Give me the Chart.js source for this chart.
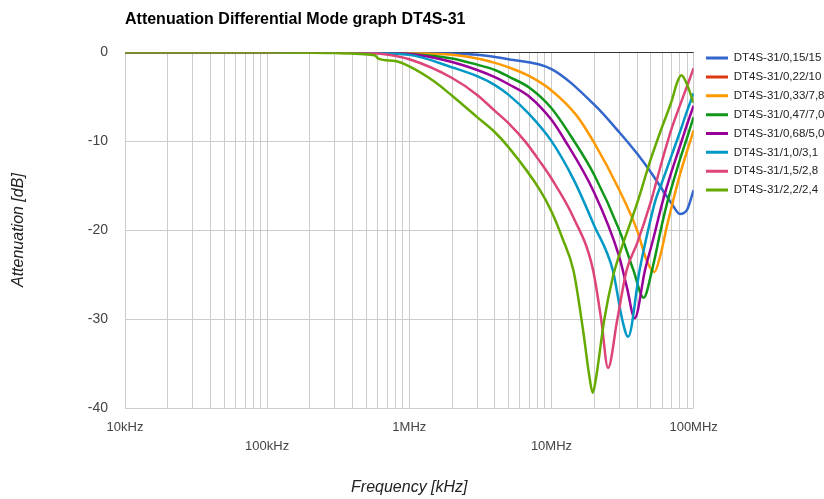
<!DOCTYPE html>
<html lang="en">
<head>
<meta charset="UTF-8">
<title>Attenuation Differential Mode graph DT4S-31</title>
<script src="https://cdn.jsdelivr.net/npm/chart.js@4"></script>
<style>
  html, body { margin: 0; padding: 0; background: #fff; }
  .wrap { width: 824px; height: 499px; }
</style>
</head>
<body>
<div class="wrap"><canvas id="attChart"></canvas></div>
<script>
// frequency in kHz, attenuation in dB
const seriesNames = ['DT4S-31/0,15/15', 'DT4S-31/0,22/10', 'DT4S-31/0,33/7,8', 'DT4S-31/0,47/7,0',
                     'DT4S-31/0,68/5,0', 'DT4S-31/1,0/3,1', 'DT4S-31/1,5/2,8', 'DT4S-31/2,2/2,4'];
const seriesColors = ['#3366cc', '#dc3912', '#ff9900', '#109618', '#990099', '#0099c6', '#dd4477', '#66aa00'];

const att015 = [[10,0],[100,0],[1000,-0.05],[3000,-0.3],[5000,-0.8],[10000,-1.9],[20000,-5.9],[30000,-9.0],
  [40000,-11.4],[50000,-13.5],[60000,-15.4],[70000,-17.0],[80000,-18.2],[90000,-17.7],[100000,-15.5]];
const att022 = [];
const att033 = [[10,0],[300,0],[1000,-0.1],[2000,-0.3],[3000,-0.7],[4000,-1.2],[5000,-1.7],[7000,-2.7],[10000,-4.3],
  [15000,-7.1],[20000,-10.2],[30000,-15.5],[40000,-20.0],[47000,-23.5],[53000,-24.7],[58000,-23.0],[65000,-19.5],
  [72000,-16.6],[80000,-13.8],[90000,-11.1],[100000,-8.8]];
const att047 = [[10,0],[300,0],[1000,-0.2],[2000,-0.7],[3000,-1.4],[4000,-2.0],[5000,-2.75],[7000,-4.0],[10000,-6.3],
  [14300,-9.9],[20000,-13.8],[30000,-20.0],[37700,-24.5],[44500,-27.6],[51000,-24.5],[60000,-19.3],[66000,-16.6],
  [70000,-15.2],[80000,-12.1],[90000,-9.6],[100000,-7.3]];
const att068 = [[10,0],[300,0],[1000,-0.2],[2000,-1.1],[3000,-2.0],[4000,-2.8],[5000,-3.6],[7000,-5.0],[10000,-7.6],
  [12200,-9.7],[20000,-15.8],[30000,-23.0],[34000,-26.5],[38500,-29.9],[45500,-24.5],[52000,-21.0],[61000,-16.6],
  [70000,-13.4],[80000,-10.6],[90000,-8.1],[100000,-6.0]];
const att10 = [[10,0],[300,0],[1000,-0.3],[2000,-1.7],[3000,-2.7],[4000,-3.7],[5000,-4.8],[7000,-7.0],[10000,-10.0],
  [14300,-14.3],[20000,-19.5],[27000,-24.5],[31500,-30.1],[34600,-32.0],[41700,-24.5],[48000,-19.9],[54000,-16.6],
  [60000,-14.6],[70000,-11.6],[80000,-9.0],[90000,-6.6],[100000,-4.6]];
const att15 = [[10,0],[300,0],[650,-0.2],[1000,-0.8],[2000,-2.9],[3000,-4.8],[4000,-6.6],[5000,-8.0],[6500,-10.0],
  [8300,-12.3],[10000,-14.2],[14300,-18.6],[19500,-24.3],[22400,-30.1],[25000,-35.5],[29000,-30.1],[33800,-24.5],
  [40000,-21.5],[50000,-16.8],[60000,-12.2],[70000,-8.6],[80000,-6.0],[90000,-3.8],[100000,-1.8]];
const att22 = [[10,0],[100,0],[300,-0.1],[570,-0.35],[610,-0.75],[800,-1.0],[1000,-1.6],[1500,-3.3],[2000,-4.9],
  [3000,-7.3],[4000,-9.0],[5000,-10.7],[8300,-15.5],[10000,-17.9],[12000,-21.0],[14300,-24.6],[16600,-31.0],
  [18500,-36.5],[19500,-38.3],[20500,-36.8],[23500,-30.1],[27000,-25.3],[30000,-22.8],[40000,-17.0],[50000,-12.0],
  [60000,-8.4],[70000,-5.5],[77000,-3.3],[82000,-2.6],[88000,-3.3],[100000,-5.7]];

const seriesData = [att015, att022, att033, att047, att068, att10, att15, att22];

const decadeTicks = [10, 100, 1000, 10000, 100000];
const decadeLabels = ['10kHz', '100kHz', '1MHz', '10MHz', '100MHz'];
const yTicks = [-40, -30, -20, -10, 0];

const FONT = "'Liberation Sans', Arial, sans-serif";

const datasets = seriesData.map((pts, i) => ({
    label: seriesNames[i],
    data: pts.map(p => ({ x: p[0], y: p[1] })),
    borderColor: seriesColors[i],
    backgroundColor: seriesColors[i],
    borderWidth: 2.5,
    pointRadius: 0,
    cubicInterpolationMode: 'monotone',
    order: -i  // later series on top, like the original
}));

// nudge the legend a little away from the plot area
const legendGap = {
    id: 'legendGap',
    afterLayout(chart) {
        if (chart.legend) {
            chart.legend.left += 5;
            chart.legend.right += 5;
        }
    }
};

new Chart(document.getElementById('attChart'), {
    type: 'line',
    data: { datasets: datasets },
    plugins: [legendGap],
    options: {
        responsive: true,
        maintainAspectRatio: false,
        animation: false,
        layout: { padding: { right: -5.5 } },
        plugins: {
            title: {
                display: true,
                text: 'Attenuation Differential Mode graph DT4S-31',
                align: 'start',
                fullSize: false,
                color: '#000',
                font: { family: FONT, size: 16, weight: 'bold' },
                padding: { top: 10, bottom: 23 }
            },
            legend: {
                position: 'right',
                align: 'start',
                title: { display: true, text: '', font: { size: 10, lineHeight: 1 }, padding: { top: 35, bottom: 0 } },
                labels: {
                    boxWidth: 22,
                    boxHeight: 3,
                    padding: 7.35,
                    color: '#222',
                    font: { family: FONT, size: 11.5 },
                    sort: (a, b) => a.datasetIndex - b.datasetIndex,
                    generateLabels: (chart) => Chart.defaults.plugins.legend.labels.generateLabels(chart)
                        .map(item => Object.assign(item, { lineWidth: 0 }))
                }
            },
            tooltip: { enabled: false }
        },
        scales: {
            x: {
                type: 'logarithmic',
                min: 10,
                max: 100000,
                border: { display: false },
                grid: { color: '#cccccc', drawTicks: false },
                afterBuildTicks: (scale) => {
                    const t = [];
                    decadeTicks.slice(0, -1).forEach(d => {
                        for (let k = 1; k <= 9; k++) t.push({ value: d * k });
                    });
                    t.push({ value: decadeTicks[decadeTicks.length - 1] });
                    scale.ticks = t;
                },
                afterFit: (scale) => { scale.height = 91; },
                ticks: {
                    autoSkip: false,
                    maxRotation: 0,
                    padding: 10,
                    color: '#444',
                    font: { family: FONT, size: 13, lineHeight: 1.45 },
                    callback: (value) => {
                        const i = decadeTicks.indexOf(value);
                        if (i < 0) return '';
                        return i % 2 ? ['', decadeLabels[i]] : [decadeLabels[i], ''];
                    }
                },
                title: {
                    display: true,
                    text: 'Frequency [kHz]',
                    color: '#222',
                    font: { family: FONT, size: 16, style: 'italic' },
                    padding: { top: 0, bottom: 2 }
                }
            },
            y: {
                min: -40,
                max: 0,
                border: { display: false },
                grid: {
                    drawTicks: false,
                    color: (ctx) => (ctx.tick && ctx.tick.value === 0) ? '#333333' : '#cccccc'
                },
                afterBuildTicks: (scale) => { scale.ticks = yTicks.map(v => ({ value: v })); },
                afterFit: (scale) => { scale.width = 125; },
                ticks: {
                    padding: 17,
                    color: '#444',
                    font: { family: FONT, size: 14 }
                },
                title: {
                    display: true,
                    text: 'Attenuation [dB]',
                    color: '#222',
                    font: { family: FONT, size: 16, style: 'italic' },
                    padding: { top: 9, bottom: 0 }
                }
            }
        }
    }
});
</script>
</body>
</html>
